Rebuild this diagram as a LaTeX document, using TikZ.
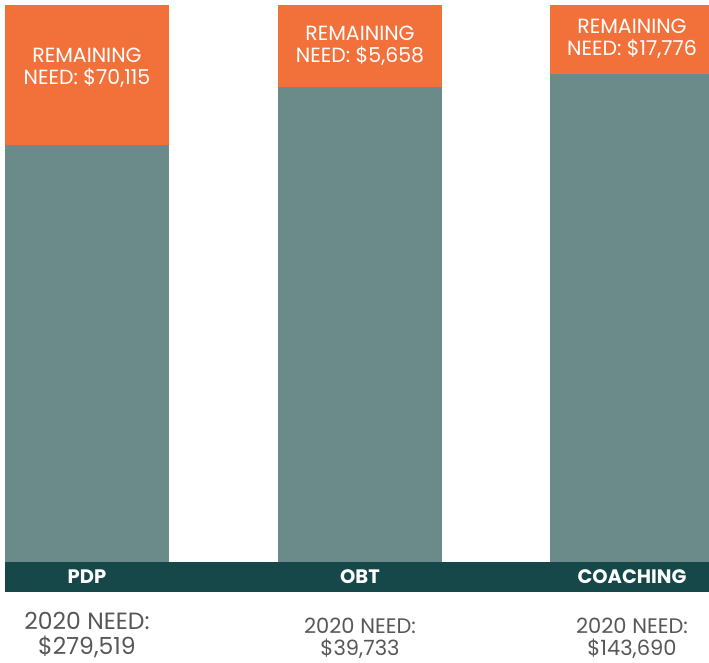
\documentclass[tikz,border=0pt]{standalone}
\usepackage{fontspec}
\setmainfont{Poppins}
\usetikzlibrary{positioning}
\definecolor{needorange}{HTML}{F2713A}
\definecolor{metgray}{HTML}{6B8A8A}
\definecolor{banddark}{HTML}{16484A}
\definecolor{labelgray}{HTML}{575757}
\tikzset{
  remaining/.style={text=white,align=center,inner sep=0pt,font=\fontsize{20.5}{22}\selectfont},
  program/.style={text=white,inner sep=0pt,font=\fontsize{19.5}{20}\selectfont\bfseries},
  total/.style={text=labelgray,align=center,inner sep=0pt,font=\fontsize{21}{22}\selectfont},
}

\begin{document}
\begin{tikzpicture}[x=1pt,y=-1pt]
  \useasboundingbox (0,0) rectangle (709,662);
  % bars: orange = remaining need, gray = covered
  \foreach \xl/\xr/\ycut in {5/169/145,278/442/87,550/709/74}{
    \fill[needorange] (\xl,5) rectangle (\xr,\ycut);
    \fill[metgray] (\xl,\ycut) rectangle (\xr,562);
  }
  \fill[banddark] (5,562) rectangle (709,592);
  % remaining need
  \node[remaining] (rempdp) at (87,68) {REMAINING\\NEED: \$70,115};
  \node[remaining] (remobt) at (360,46) {REMAINING\\NEED: \$5,658};
  \node[remaining] (remcoach) at (632,39) {REMAINING\\NEED: \$17,776};
  % program names
  \node[program] (pdp) at (87,577) {PDP};
  \node[program] (obt) at (360,577) {OBT};
  \node[program] (coach) at (632,577) {COACHING};
  % 2020 need
  \node[total,font=\fontsize{23.5}{25}\selectfont] (totpdp) at (87,635) {2020 NEED:\\\$279,519};
  \node[total] (totobt) at (360,638) {2020 NEED:\\\$39,733};
  \node[total] (totcoach) at (632,638) {2020 NEED:\\\$143,690};
\end{tikzpicture}
\end{document}
